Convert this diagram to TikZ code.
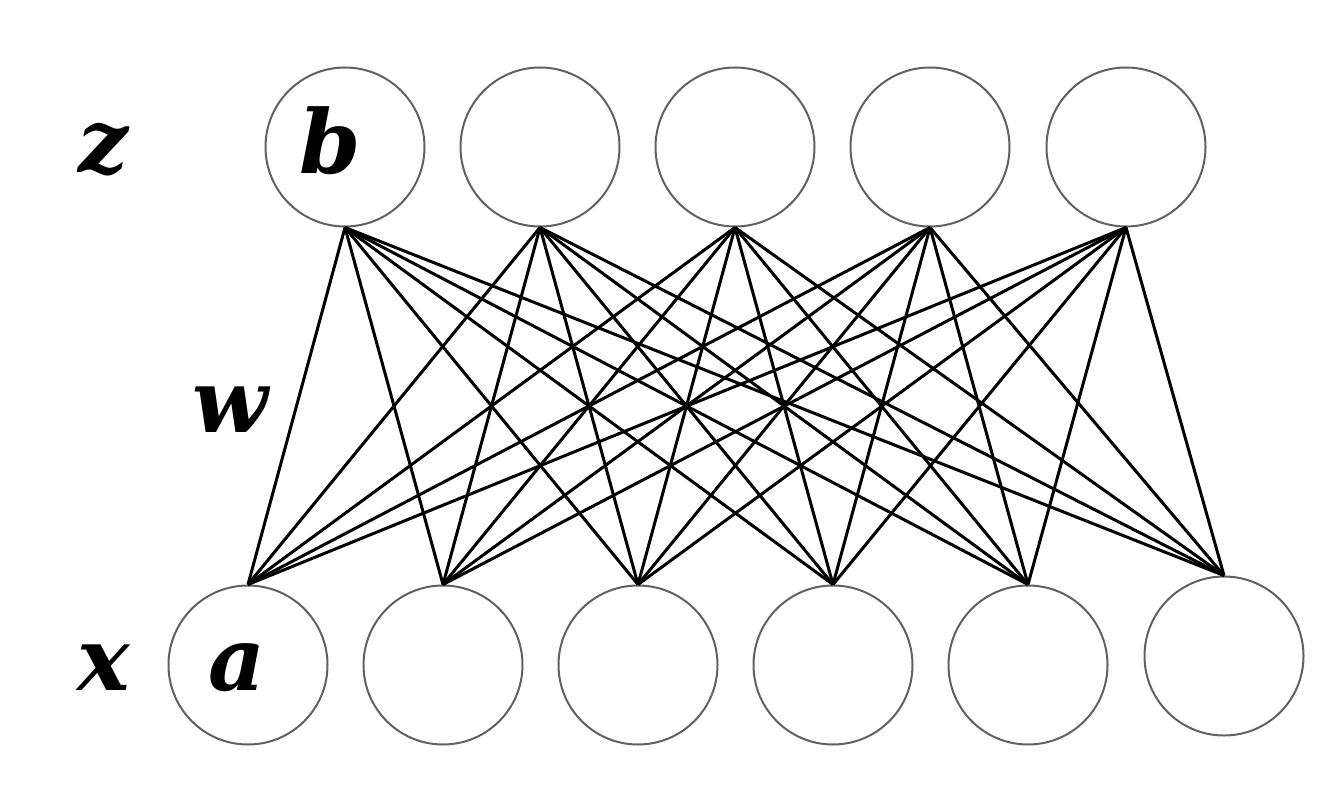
\documentclass[tikz,border=0pt]{standalone}
\usepackage{fontspec}
\newfontfamily\lblfont{DejaVu Serif}
\begin{document}
\begin{tikzpicture}[x=1pt,y=-1pt,
  neuron/.style={circle,draw=black!62,line width=2pt,minimum size=159pt,inner sep=0pt},
  conn/.style={line width=3pt,black},
  lbl/.style={font=\fontsize{88}{88}\selectfont\lblfont\bfseries\itshape,inner sep=0pt}]
\useasboundingbox (0,0) rectangle (1339,797);
% top layer
\foreach \i/\x in {1/345,2/540,3/735,4/930,5/1126}
  \node[neuron] (t\i) at (\x,147) {};
% bottom layer
\foreach \i/\x in {1/248,2/443,3/638,4/833,5/1028}
  \node[neuron] (b\i) at (\x,665) {};
\node[neuron] (b6) at (1224,656) {};
% connections
\foreach \i in {1,...,5}
  \foreach \j in {1,...,6}
    \draw[conn] (t\i.south) -- (b\j.north);
% labels
\node[lbl] (lz) at (103,150) {z};
\node[lbl] (lb) at (330,141) {b};
\node[lbl] (lw) at (230,410) {w};
\node[lbl] (lx) at (104,668) {x};
\node[lbl] (la) at (237,668) {a};
\end{tikzpicture}
\end{document}
